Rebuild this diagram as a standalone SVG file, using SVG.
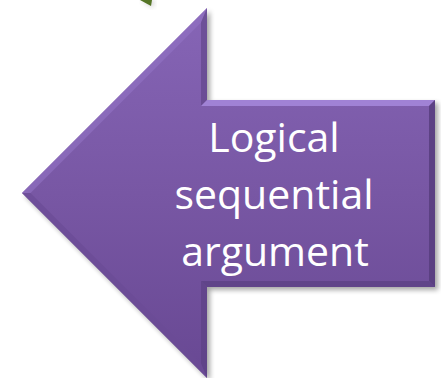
<svg xmlns="http://www.w3.org/2000/svg" width="441" height="378" viewBox="0 0 441 378">
  <defs>
    <linearGradient id="body" x1="0" y1="0" x2="0" y2="1">
      <stop offset="0" stop-color="#8665b6"/>
      <stop offset="0.5" stop-color="#7857a4"/>
      <stop offset="1" stop-color="#684893"/>
    </linearGradient>
    <filter id="shadow" x="-10%" y="-10%" width="130%" height="130%">
      <feGaussianBlur stdDeviation="2.5"/>
    </filter>
    <style>
      .label { font-family: "Open Sans", "Noto Sans", sans-serif; font-size: 41px; fill: #ffffff; text-anchor: middle; }
    </style>
  </defs>
  <rect width="441" height="378" fill="#ffffff"/>

  <!-- partial green shape at top -->
  <g id="green-piece">
    <polygon points="141,0 154,0 153,8" fill="#999" opacity="0.45" filter="url(#shadow)"/>
    <polygon points="140,0 152,0 151,6" fill="#557526"/>
  </g>

  <g id="arrow">
    <!-- drop shadow -->
    <polygon points="25,196 210,11 210,103 438,103 438,290 210,290 210,381" fill="#000" opacity="0.35" filter="url(#shadow)"/>
    <!-- body -->
    <polygon points="22,193 207,8 207,100 435,100 435,287 207,287 207,378" fill="url(#body)"/>
    <!-- bevel strips -->
    <polygon points="22,193 207,8 201,22.5 30.5,193" fill="#9373c4" opacity="0.6"/>
    <polygon points="207,8 207,100 201,106 201,22.5" fill="#5e4286" opacity="0.6"/>
    <polygon points="207,100 435,100 429,106 201,106" fill="#a688dc" opacity="0.85"/>
    <polygon points="435,100 435,287 429,281 429,106" fill="#573d7e" opacity="0.85"/>
    <polygon points="435,287 207,287 201,281 429,281" fill="#5a3f82" opacity="0.7"/>
    <polygon points="207,287 207,378 201,363.5 201,281" fill="#5a3f82" opacity="0.6"/>
    <polygon points="207,378 22,193 30.5,193 201,363.5" fill="#6b4c95" opacity="0.7"/>
    <text class="label" x="274" y="152">Logical</text>
    <text class="label" x="274" y="209">sequential</text>
    <text class="label" x="275" y="266">argument</text>
  </g>
</svg>
